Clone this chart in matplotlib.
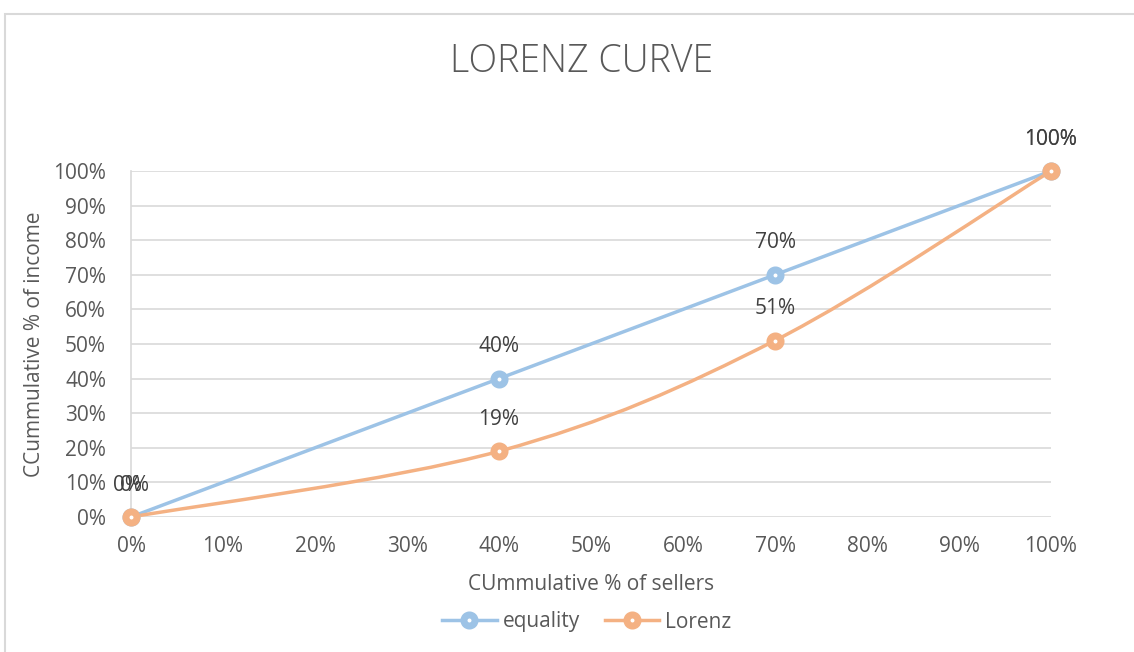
import numpy as np
import matplotlib
matplotlib.use("Agg")
import matplotlib.pyplot as plt
from matplotlib.path import Path
from matplotlib.patches import PathPatch, Rectangle
from matplotlib.lines import Line2D
from matplotlib.ticker import PercentFormatter, MultipleLocator

plt.rcParams['font.family'] = ['Open Sans', 'DejaVu Sans']

# data
sellers = [0.0, 0.40, 0.70, 1.00]
equality = [0.0, 0.40, 0.70, 1.00]
lorenz = [0.0, 0.19, 0.51, 1.00]
eq_labels = ['0%', '40%', '70%', '100%']
lz_labels = ['0%', '19%', '51%', '100%']

BLUE = '#9DC3E6'
ORANGE = '#F4B183'
TXT = '#595959'
GRID = '#D9D9D9'


def smooth_path(x, y):
    # Excel-style smoothed line: cubic Bezier through each point
    pts = np.column_stack([x, y])
    n = len(pts)
    verts = [pts[0]]
    codes = [Path.MOVETO]
    for i in range(n - 1):
        p0 = pts[max(i - 1, 0)]
        p1 = pts[i]
        p2 = pts[i + 1]
        p3 = pts[min(i + 2, n - 1)]
        c1 = p1 + (p2 - p0) / 6.0
        c2 = p2 - (p3 - p1) / 6.0
        verts += [c1, c2, p2]
        codes += [Path.CURVE4] * 3
    return Path(verts, codes)


fig = plt.figure(figsize=(11.34, 6.52), dpi=100)
ax = fig.add_axes([131 / 1134, 1 - 517 / 652, 920 / 1134, 346 / 652])

# chart border (only left/top visible in the crop)
fig.patches.append(Rectangle((5 / 1134, -0.2), 1.5, 0.2 + (652 - 14) / 652,
                             transform=fig.transFigure, fill=False,
                             edgecolor=GRID, linewidth=1.5))

for xs, ys, col, labels, dx in [(sellers, equality, BLUE, eq_labels, -2.5),
                                (sellers, lorenz, ORANGE, lz_labels, 2.5)]:
    ax.add_patch(PathPatch(smooth_path(xs, ys), facecolor='none', edgecolor=col,
                           linewidth=2.5, capstyle='round', clip_on=False, zorder=3))
    ax.plot(xs, ys, linestyle='none', marker='o', markersize=8,
            markerfacecolor='white', markeredgecolor=col, markeredgewidth=5,
            clip_on=False, zorder=4)
    for i, (xv, yv, lab) in enumerate(zip(xs, ys, labels)):
        off = dx if i == 0 else 0
        ax.annotate(lab, (xv, yv), xytext=(off, 23), textcoords='offset points',
                    ha='center', va='center', fontsize=15, color='#404040', zorder=5)

ax.set_xlim(0, 1)
ax.set_ylim(0, 1)
ax.xaxis.set_major_locator(MultipleLocator(0.1))
ax.yaxis.set_major_locator(MultipleLocator(0.1))
ax.xaxis.set_major_formatter(PercentFormatter(1.0, decimals=0))
ax.yaxis.set_major_formatter(PercentFormatter(1.0, decimals=0))
ax.tick_params(length=0, labelsize=15, labelcolor=TXT)
ax.tick_params(axis='x', pad=14)
ax.tick_params(axis='y', pad=18)
ax.grid(axis='y', color=GRID, linewidth=1.2)
ax.set_axisbelow(True)
for s in ['top', 'right', 'bottom']:
    ax.spines[s].set_visible(False)
ax.spines['left'].set_color(GRID)
ax.spines['left'].set_linewidth(1.2)

ax.set_xlabel('CUmmulative % of sellers', fontsize=15, color=TXT, labelpad=12)
ax.set_ylabel('CCummulative % of income', fontsize=15, color=TXT, labelpad=6)
fig.text(582 / 1134, 1 - 62 / 652, 'LORENZ CURVE', ha='center', va='center',
         fontsize=27, color=TXT, fontweight='light')

handles = [Line2D([], [], color=c, linewidth=2.5, marker='o', markersize=8,
                  markerfacecolor='white', markeredgecolor=c, markeredgewidth=5)
           for c in (BLUE, ORANGE)]
fig.legend(handles, ['equality', 'Lorenz'], loc='center', ncol=2, frameon=False,
           bbox_to_anchor=(587 / 1134, 1 - 622 / 652), fontsize=15,
           labelcolor=TXT, handlelength=2.6, columnspacing=1.2, handletextpad=0.3)

fig.savefig('out.png', dpi=100)
